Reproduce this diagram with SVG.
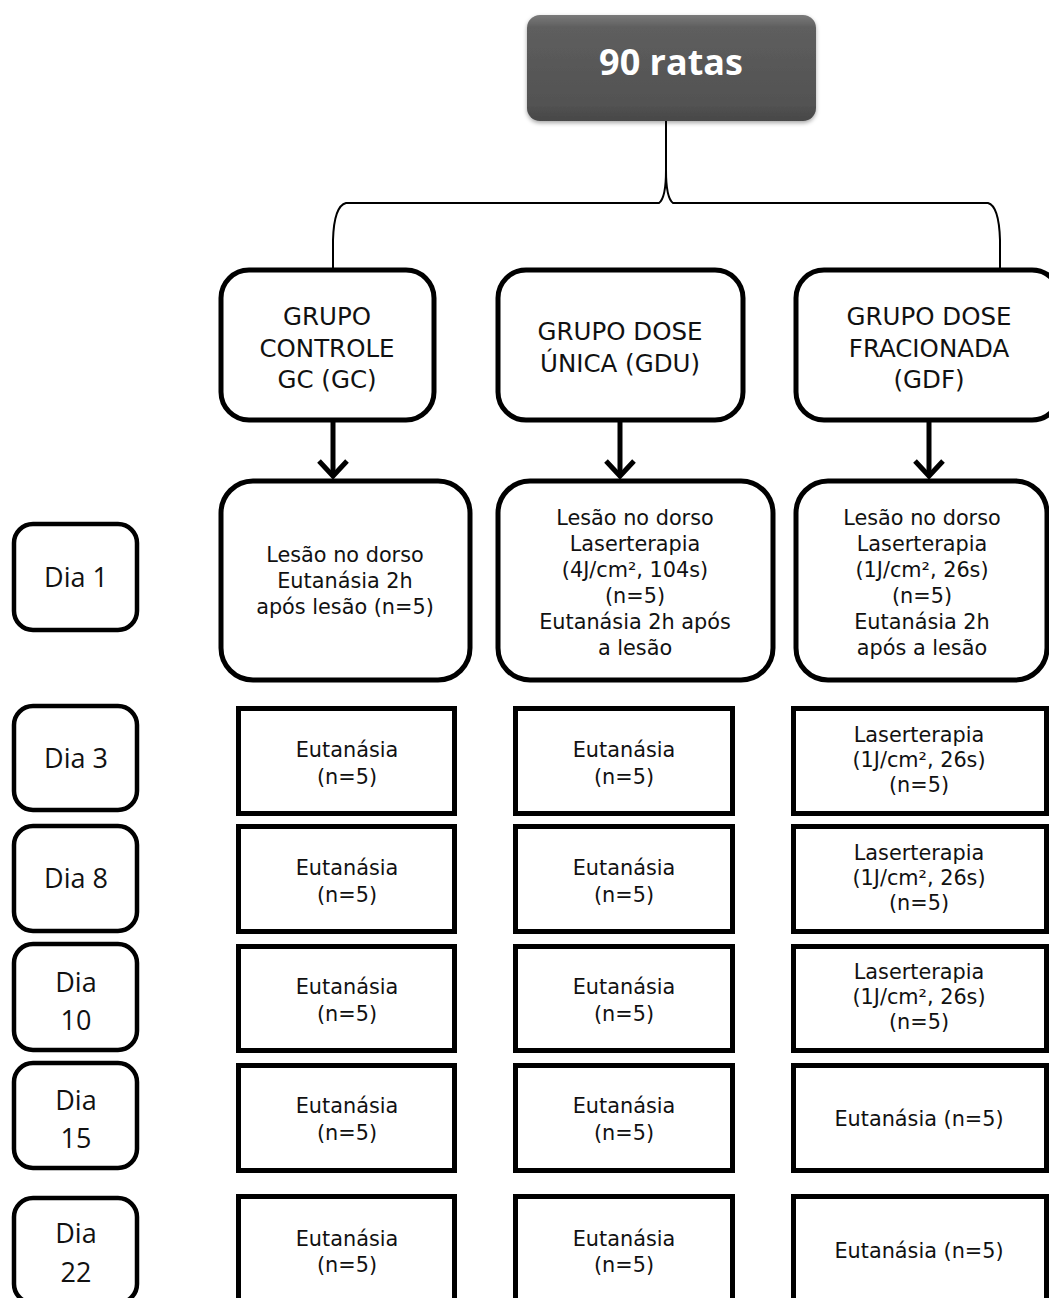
<svg xmlns="http://www.w3.org/2000/svg" width="1049" height="1298" viewBox="0 0 1049 1298">
<defs>
<linearGradient id="gtop" x1="0" y1="0" x2="0" y2="1">
<stop offset="0" stop-color="#7a7a7a"/>
<stop offset="0.12" stop-color="#5e5e5e"/>
<stop offset="0.85" stop-color="#525252"/>
<stop offset="1" stop-color="#474747"/>
</linearGradient>
<filter id="sh" x="-10%" y="-10%" width="120%" height="130%">
<feDropShadow dx="0" dy="2" stdDeviation="2" flood-color="#000" flood-opacity="0.35"/>
</filter>
</defs>
<style>
.rb{fill:#fff;stroke:#000;stroke-width:5}
.sq{fill:#fff;stroke:#000;stroke-width:5}
.db{fill:#fff;stroke:#000;stroke-width:4.5}
.g{font-family:"DejaVu Sans",Verdana,sans-serif;font-size:24.5px;fill:#111;text-anchor:middle}
.t{font-family:"DejaVu Sans",Verdana,sans-serif;font-size:20.8px;fill:#111;text-anchor:middle}
.d{font-family:"Open Sans","Noto Sans",sans-serif;font-size:27px;fill:#111;text-anchor:middle}
.c{fill:none;stroke:#000;stroke-width:2}
.ar{fill:none;stroke:#000;stroke-width:5}
</style>

<g id="top">
<rect x="527" y="15" width="289" height="106" rx="13" fill="url(#gtop)" filter="url(#sh)"/>
<text x="671" y="75" font-family="Open Sans, sans-serif" font-weight="bold" font-size="36" fill="#fff" text-anchor="middle">90 ratas</text>
</g>

<g id="connectors">
<path class="c" d="M666,121 L666,170 Q666,198 659,203 L346,203 Q334,206 333,240 L333,270"/>
<path class="c" d="M666,170 Q666,198 673,203 L988,203 Q999,206 1000,240 L1000,270"/>
<path class="ar" d="M333,420 L333,476"/>
<path class="ar" d="M319,461 L333,476 L347,461"/>
<path class="ar" d="M620,420 L620,476"/>
<path class="ar" d="M606,461 L620,476 L634,461"/>
<path class="ar" d="M929,420 L929,476"/>
<path class="ar" d="M915,461 L929,476 L943,461"/>
</g>

<g id="gc">
<rect class="rb" x="221" y="270" width="213" height="150" rx="28"/>
<text class="g" x="327" y="325">GRUPO</text>
<text class="g" x="327" y="357">CONTROLE</text>
<text class="g" x="327" y="388">GC (GC)</text>
</g>
<g id="gdu">
<rect class="rb" x="498" y="270" width="245" height="150" rx="28"/>
<text class="g" x="620" y="340">GRUPO DOSE</text>
<text class="g" x="620" y="372">ÚNICA (GDU)</text>
</g>
<g id="gdf">
<rect class="rb" x="796" y="270" width="264" height="150" rx="28"/>
<text class="g" x="929" y="325">GRUPO DOSE</text>
<text class="g" x="929" y="357">FRACIONADA</text>
<text class="g" x="929" y="388">(GDF)</text>
</g>

<g id="l1">
<rect class="rb" x="221" y="481" width="249" height="199" rx="32"/>
<text class="t" x="345" y="562">Lesão no dorso</text>
<text class="t" x="345" y="588">Eutanásia 2h</text>
<text class="t" x="345" y="614">após lesão (n=5)</text>
</g>
<g id="l2">
<rect class="rb" x="498" y="481" width="275" height="199" rx="32"/>
<text class="t" x="635" y="525">Lesão no dorso</text>
<text class="t" x="635" y="551">Laserterapia</text>
<text class="t" x="635" y="577">(4J/cm², 104s)</text>
<text class="t" x="635" y="603">(n=5)</text>
<text class="t" x="635" y="629">Eutanásia 2h após</text>
<text class="t" x="635" y="655">a lesão</text>
</g>
<g id="l3">
<rect class="rb" x="796" y="481" width="251" height="199" rx="32"/>
<text class="t" x="922" y="525">Lesão no dorso</text>
<text class="t" x="922" y="551">Laserterapia</text>
<text class="t" x="922" y="577">(1J/cm², 26s)</text>
<text class="t" x="922" y="603">(n=5)</text>
<text class="t" x="922" y="629">Eutanásia 2h</text>
<text class="t" x="922" y="655">após a lesão</text>
</g>

<g id="dia1">
<rect class="db" x="14" y="524" width="123" height="106" rx="19"/>
<text class="d" x="76" y="587">Dia 1</text>
</g>
<g id="dia3">
<rect class="db" x="14" y="706" width="123" height="104" rx="19"/>
<text class="d" x="76" y="768">Dia 3</text>
</g>
<g id="dia8">
<rect class="db" x="14" y="826" width="123" height="105" rx="19"/>
<text class="d" x="76" y="888">Dia 8</text>
</g>
<g id="dia10">
<rect class="db" x="14" y="944" width="123" height="106" rx="19"/>
<text class="d" x="76" y="992">Dia</text>
<text class="d" x="76" y="1030">10</text>
</g>
<g id="dia15">
<rect class="db" x="14" y="1063" width="123" height="105" rx="19"/>
<text class="d" x="76" y="1110">Dia</text>
<text class="d" x="76" y="1148">15</text>
</g>
<g id="dia22">
<rect class="db" x="14" y="1198" width="123" height="105" rx="19"/>
<text class="d" x="76" y="1243">Dia</text>
<text class="d" x="76" y="1282">22</text>
</g>

<g id="r3c1"><rect class="sq" x="238.5" y="708.5" width="216" height="105"/>
<text class="t" x="347" y="757">Eutanásia</text><text class="t" x="347" y="784">(n=5)</text></g>
<g id="r3c2"><rect class="sq" x="515.5" y="708.5" width="217" height="105"/>
<text class="t" x="624" y="757">Eutanásia</text><text class="t" x="624" y="784">(n=5)</text></g>
<g id="r3c3"><rect class="sq" x="793.5" y="708.5" width="253" height="105"/>
<text class="t" x="919" y="742">Laserterapia</text><text class="t" x="919" y="767">(1J/cm², 26s)</text><text class="t" x="919" y="792">(n=5)</text></g>

<g id="r8c1"><rect class="sq" x="238.5" y="826.5" width="216" height="105"/>
<text class="t" x="347" y="875">Eutanásia</text><text class="t" x="347" y="902">(n=5)</text></g>
<g id="r8c2"><rect class="sq" x="515.5" y="826.5" width="217" height="105"/>
<text class="t" x="624" y="875">Eutanásia</text><text class="t" x="624" y="902">(n=5)</text></g>
<g id="r8c3"><rect class="sq" x="793.5" y="826.5" width="253" height="105"/>
<text class="t" x="919" y="860">Laserterapia</text><text class="t" x="919" y="885">(1J/cm², 26s)</text><text class="t" x="919" y="910">(n=5)</text></g>

<g id="r10c1"><rect class="sq" x="238.5" y="946.5" width="216" height="104"/>
<text class="t" x="347" y="994">Eutanásia</text><text class="t" x="347" y="1021">(n=5)</text></g>
<g id="r10c2"><rect class="sq" x="515.5" y="946.5" width="217" height="104"/>
<text class="t" x="624" y="994">Eutanásia</text><text class="t" x="624" y="1021">(n=5)</text></g>
<g id="r10c3"><rect class="sq" x="793.5" y="946.5" width="253" height="104"/>
<text class="t" x="919" y="979">Laserterapia</text><text class="t" x="919" y="1004">(1J/cm², 26s)</text><text class="t" x="919" y="1029">(n=5)</text></g>

<g id="r15c1"><rect class="sq" x="238.5" y="1065.5" width="216" height="105"/>
<text class="t" x="347" y="1113">Eutanásia</text><text class="t" x="347" y="1140">(n=5)</text></g>
<g id="r15c2"><rect class="sq" x="515.5" y="1065.5" width="217" height="105"/>
<text class="t" x="624" y="1113">Eutanásia</text><text class="t" x="624" y="1140">(n=5)</text></g>
<g id="r15c3"><rect class="sq" x="793.5" y="1065.5" width="253" height="105"/>
<text class="t" x="919" y="1126">Eutanásia (n=5)</text></g>

<g id="r22c1"><rect class="sq" x="238.5" y="1196.5" width="216" height="110"/>
<text class="t" x="347" y="1246">Eutanásia</text><text class="t" x="347" y="1272">(n=5)</text></g>
<g id="r22c2"><rect class="sq" x="515.5" y="1196.5" width="217" height="110"/>
<text class="t" x="624" y="1246">Eutanásia</text><text class="t" x="624" y="1272">(n=5)</text></g>
<g id="r22c3"><rect class="sq" x="793.5" y="1196.5" width="253" height="110"/>
<text class="t" x="919" y="1258">Eutanásia (n=5)</text></g>
</svg>
